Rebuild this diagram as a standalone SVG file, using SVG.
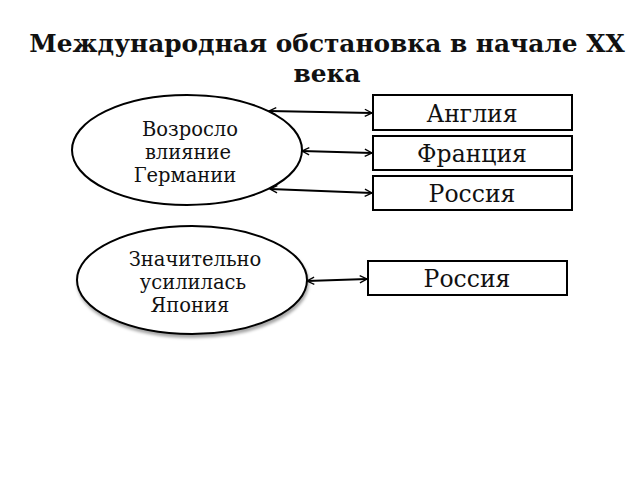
<svg xmlns="http://www.w3.org/2000/svg" width="640" height="480" viewBox="0 0 640 480">
<defs>
<marker id="ah" viewBox="0 0 10 10" refX="9" refY="5" markerWidth="9" markerHeight="9" orient="auto-start-reverse" markerUnits="userSpaceOnUse">
<path d="M1,1 L9,5 L1,9" fill="none" stroke="#000" stroke-width="1.5"/>
</marker>
<filter id="sh" x="-10%" y="-10%" width="130%" height="130%">
<feDropShadow dx="1" dy="3" stdDeviation="1.5" flood-color="#000" flood-opacity="0.35"/>
</filter>
</defs>
<style>
text{font-family:"DejaVu Serif","Liberation Serif",serif;fill:#111;text-anchor:middle}
.t{font-size:24.8px;font-weight:bold}
.e{font-size:19.5px}
.b{font-size:23.5px}
.node ellipse,.node rect{fill:#fff;stroke:#000;stroke-width:2}
.conn line{stroke:#000;stroke-width:2;marker-start:url(#ah);marker-end:url(#ah)}
</style>
<rect width="640" height="480" fill="#fff"/>
<text class="t" x="327" y="52">Международная обстановка в начале XX</text>
<text class="t" x="327" y="82">века</text>
<g id="n1" class="node">
<ellipse cx="187" cy="150" rx="115" ry="55"/>
<text class="e" x="190" y="136">Возросло</text>
<text class="e" x="188" y="159">влияние</text>
<text class="e" x="185" y="182">Германии</text>
</g>
<g id="n2" class="node">
<ellipse cx="192" cy="280" rx="115" ry="54" filter="url(#sh)"/>
<text class="e" x="195" y="266">Значительно</text>
<text class="e" x="193" y="289">усилилась</text>
<text class="e" x="190" y="312">Япония</text>
</g>
<g id="n3" class="node">
<rect x="373" y="95" width="199" height="35"/>
<text class="b" x="472" y="122">Англия</text>
</g>
<g id="n4" class="node">
<rect x="373" y="136" width="199" height="34"/>
<text class="b" x="472" y="162">Франция</text>
</g>
<g id="n5" class="node">
<rect x="373" y="176" width="199" height="34"/>
<text class="b" x="472" y="202">Россия</text>
</g>
<g id="n6" class="node">
<rect x="368" y="261" width="199" height="34"/>
<text class="b" x="467" y="287">Россия</text>
</g>
<g id="connectors" class="conn">
<line x1="269" y1="111" x2="372" y2="113"/>
<line x1="302" y1="151" x2="372" y2="153"/>
<line x1="270" y1="189" x2="372" y2="193"/>
<line x1="307" y1="281" x2="367" y2="279"/>
</g>
</svg>
